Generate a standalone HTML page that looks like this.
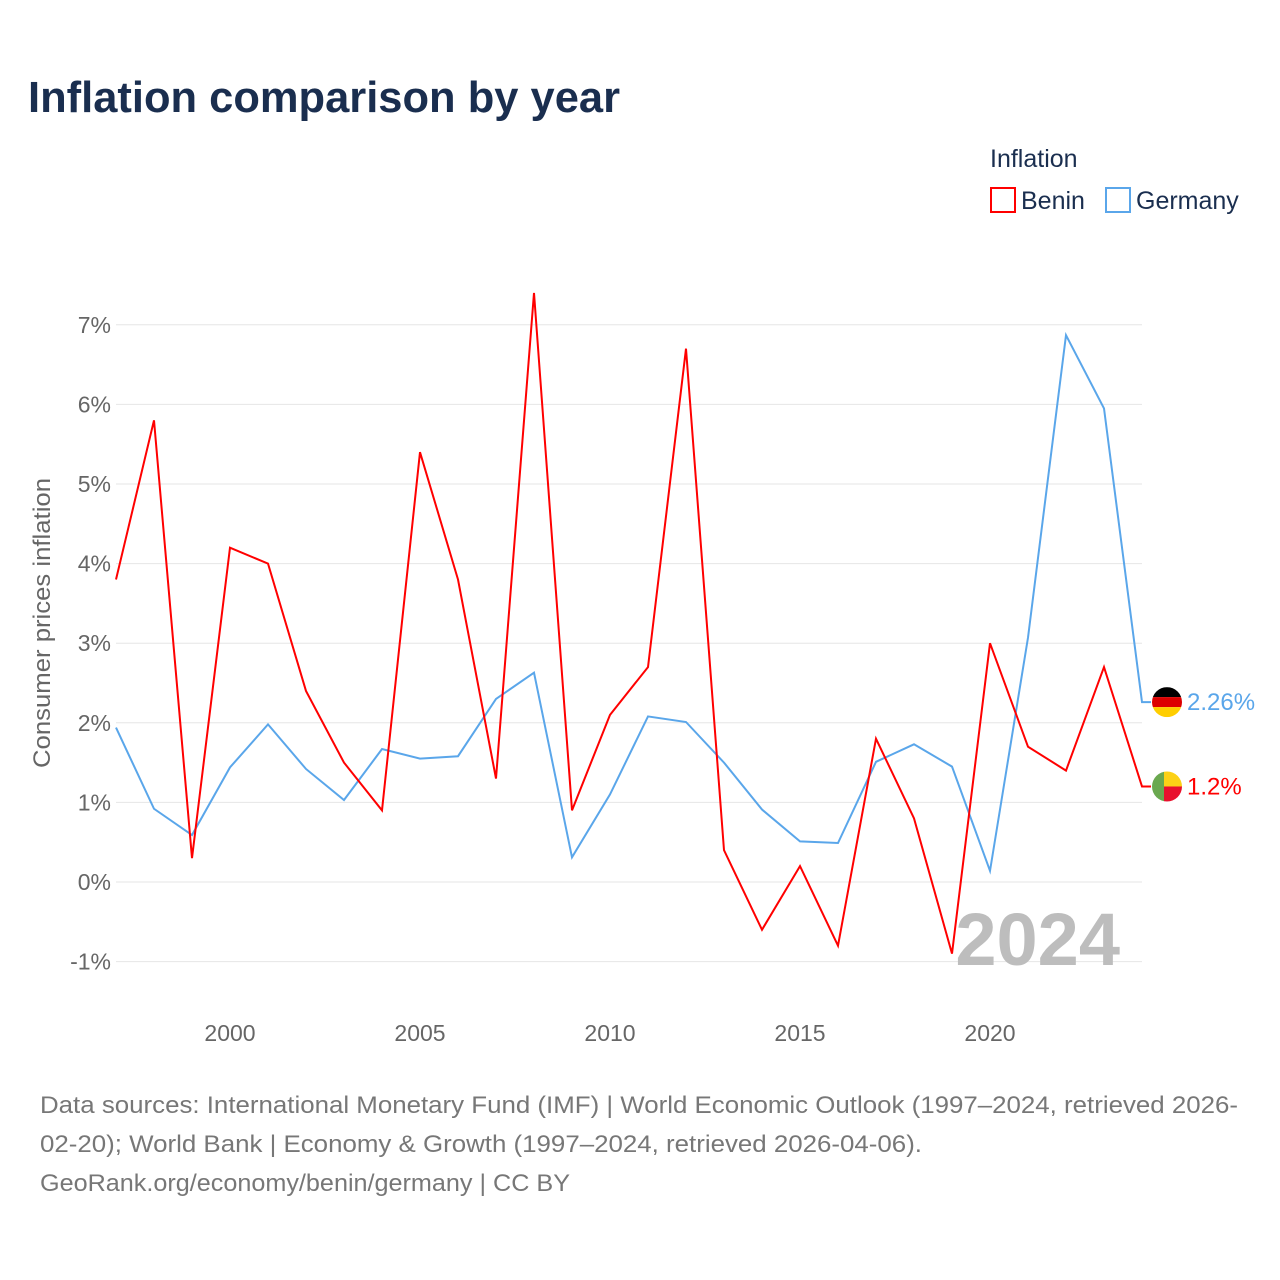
<!DOCTYPE html>
<html><head><meta charset="utf-8">
<style>
body{margin:0;background:#fff;font-family:"Liberation Sans",sans-serif;}
#wrap{position:relative;width:1280px;height:1280px;overflow:hidden;}
</style></head>
<body><div id="wrap">
<svg id="chart" width="1280" height="1280">
<text x="28" y="112" font-size="44" font-weight="bold" fill="#1a2e4f" textLength="592" lengthAdjust="spacingAndGlyphs">Inflation comparison by year</text>
<text x="990" y="167" font-size="25" fill="#1a2e4f">Inflation</text>
<g><rect x="991" y="188" width="24" height="24" fill="none" stroke="#ff0000" stroke-width="2"/><text x="1021" y="209" font-size="25" fill="#1a2e4f">Benin</text></g>
<g><rect x="1106" y="188" width="24" height="24" fill="none" stroke="#5aa6ea" stroke-width="2"/><text x="1136" y="209" font-size="25" fill="#1a2e4f">Germany</text></g>
<text transform="translate(50,623) rotate(-90)" text-anchor="middle" font-size="24" fill="#666" textLength="290" lengthAdjust="spacingAndGlyphs">Consumer prices inflation</text>
<g id="grid"></g><g id="lines"></g>
<text x="1120" y="965" text-anchor="end" font-size="74" font-weight="bold" fill="#bdbdbd">2024</text>
<g id="ends"></g>
<text x="40" y="1113" font-size="24" fill="#777" textLength="1198" lengthAdjust="spacingAndGlyphs">Data sources: International Monetary Fund (IMF) | World Economic Outlook (1997–2024, retrieved 2026-</text>
<text x="40" y="1152" font-size="24" fill="#777" textLength="882" lengthAdjust="spacingAndGlyphs">02-20); World Bank | Economy &amp; Growth (1997–2024, retrieved 2026-04-06).</text>
<text x="40" y="1191" font-size="24" fill="#777" textLength="530" lengthAdjust="spacingAndGlyphs">GeoRank.org/economy/benin/germany | CC BY</text>
</svg></div>
<script>
const years=[1997,1998,1999,2000,2001,2002,2003,2004,2005,2006,2007,2008,2009,2010,2011,2012,2013,2014,2015,2016,2017,2018,2019,2020,2021,2022,2023,2024];
const benin=[3.8,5.8,0.3,4.2,4.0,2.4,1.5,0.9,5.4,3.8,1.3,7.4,0.9,2.1,2.7,6.7,0.4,-0.6,0.2,-0.8,1.8,0.8,-0.9,3.0,1.7,1.4,2.7,1.2];
const germany=[1.94,0.92,0.59,1.44,1.98,1.42,1.03,1.67,1.55,1.58,2.30,2.63,0.31,1.10,2.08,2.01,1.50,0.91,0.51,0.49,1.51,1.73,1.45,0.14,3.07,6.87,5.95,2.26];
const yTicks=[-1,0,1,2,3,4,5,6,7];
const xTicks=[2000,2005,2010,2015,2020];
const ns="http://www.w3.org/2000/svg";
const X=y=>116+(y-1997)*38, Y=v=>882-v*79.6;
function mk(t,a,p){const e=document.createElementNS(ns,t);for(const k in a)e.setAttribute(k,a[k]);p.appendChild(e);return e;}
const grid=document.getElementById('grid');
yTicks.forEach(t=>{
 const l=mk('line',{x1:116,x2:1142,y1:Y(t),y2:Y(t),stroke:'#e6e6e6','stroke-width':1},grid);
 
 
 const tx=mk('text',{x:111,y:Y(t)+8,'text-anchor':'end','font-size':23,fill:'#666'},grid);
 tx.textContent=t+'%';
 
 
});
xTicks.forEach(t=>{
 const tx=mk('text',{x:X(t),y:1041,'text-anchor':'middle','font-size':23,fill:'#666'},grid);
 tx.textContent=t;
 
 
});
const lines=document.getElementById('lines');
function series(vals,col,name){
 let pts=vals.map((v,i)=>X(years[i])+','+Y(v)).join(' ');
 pts+=' '+(X(2024)+9)+','+Y(vals[vals.length-1]);
 const p=mk('polyline',{points:pts,fill:'none',stroke:col,'stroke-width':2,'stroke-linejoin':'miter'},lines);
 
 
}
series(germany,'#5aa6ea','germany-line');
series(benin,'#ff0000','benin-line');
const ends=document.getElementById('ends');
const cx=1167;
let gy=Y(germany[27]);
const gf=mk('g',{},ends);


const cpg=mk('clipPath',{id:'cg'},gf);mk('circle',{cx:cx,cy:gy,r:15},cpg);
const gg=mk('g',{'clip-path':'url(#cg)'},gf);
mk('rect',{x:cx-15,y:gy-15,width:30,height:10,fill:'#000'},gg);
mk('rect',{x:cx-15,y:gy-5,width:30,height:10,fill:'#dd0000'},gg);
mk('rect',{x:cx-15,y:gy+5,width:30,height:10,fill:'#ffce00'},gg);
let t1=mk('text',{x:1187,y:gy+8,'font-size':24,fill:'#5aa6ea'},ends);t1.textContent=germany[27]+'%';


let by=Y(benin[27]);
const bf=mk('g',{},ends);


const cp=mk('clipPath',{id:'cb'},bf);mk('circle',{cx:cx,cy:by,r:15},cp);
const bg=mk('g',{'clip-path':'url(#cb)'},bf);
mk('rect',{x:cx-15,y:by-15,width:12,height:30,fill:'#6aa84f'},bg);
mk('rect',{x:cx-3,y:by-15,width:18,height:15,fill:'#fcd116'},bg);
mk('rect',{x:cx-3,y:by,width:18,height:15,fill:'#e8112d'},bg);
let t2=mk('text',{x:1187,y:by+8,'font-size':24,fill:'#ff0000'},ends);t2.textContent=benin[27]+'%';


</script>
</body></html>
